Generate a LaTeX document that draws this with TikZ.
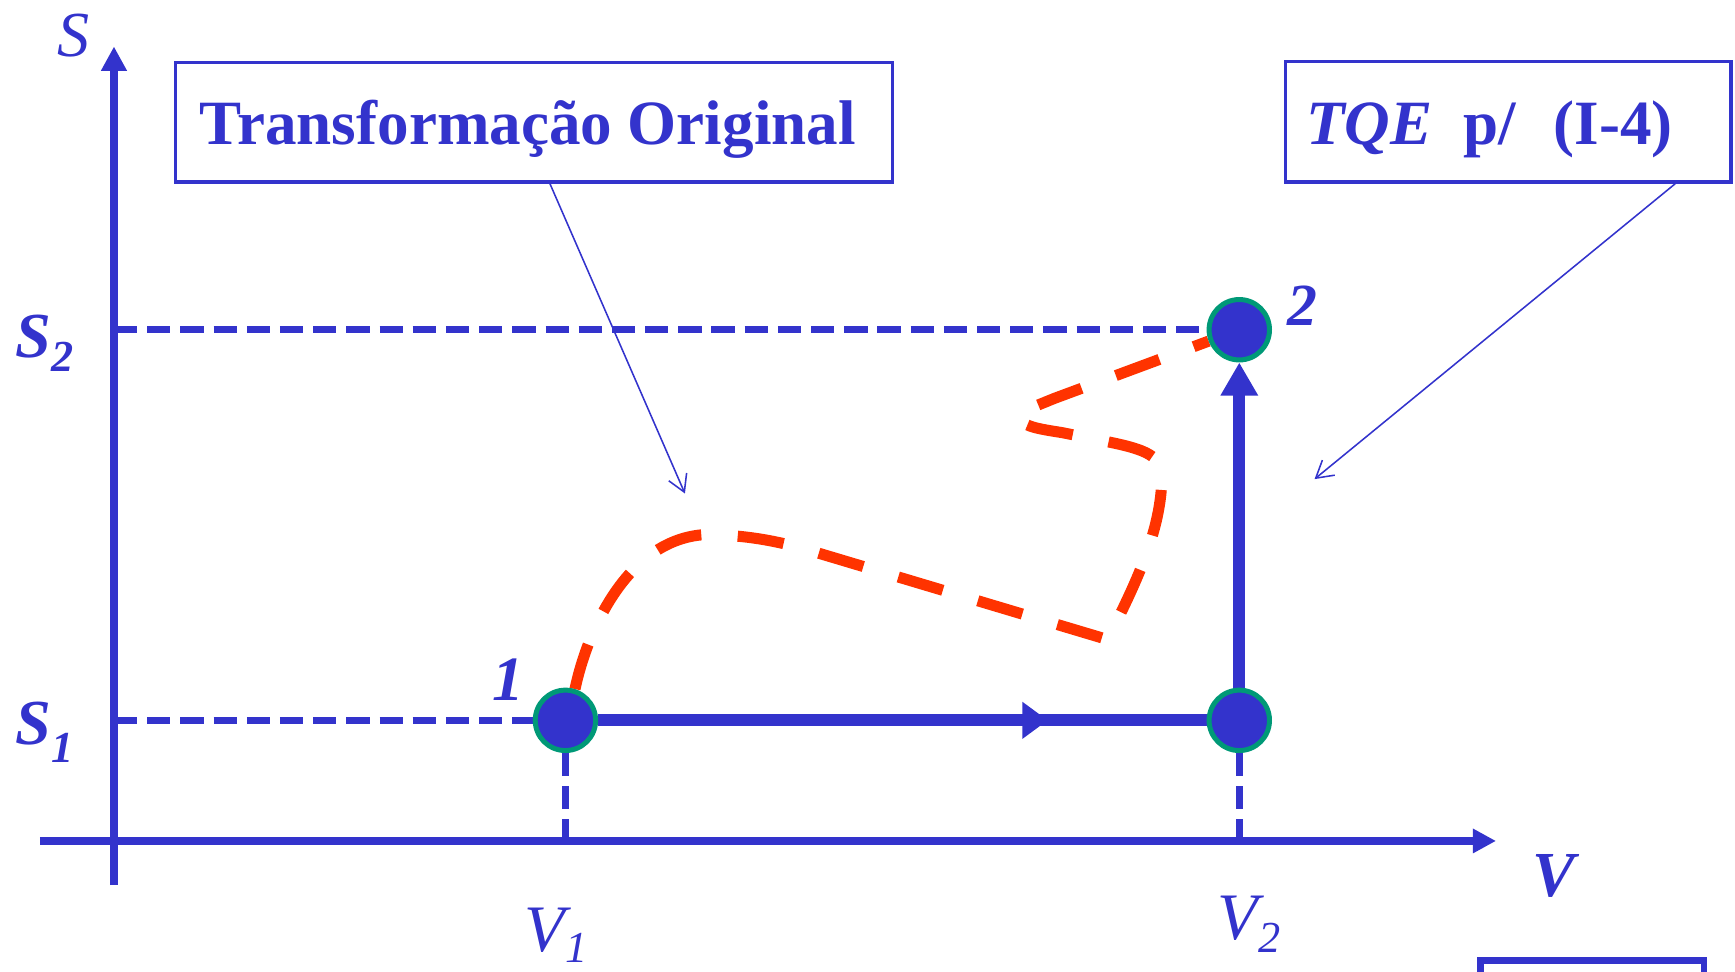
\documentclass[tikz,border=0pt]{standalone}
\usepackage{fontspec}
\setmainfont{Liberation Serif}
\usetikzlibrary{arrows.meta,decorations.markings}
\pgfdeclarelayer{bg}
\pgfsetlayers{bg,main}
\definecolor{dblue}{HTML}{3333CC}
\definecolor{dred}{HTML}{FF3300}
\definecolor{dgreen}{HTML}{009977}
\begin{document}
\begin{tikzpicture}[x=0.5pt,y=-0.5pt,
  axis/.style={draw=dblue,line width=3.4pt},
  guide/.style={draw=dblue,line width=3.2pt,dash pattern=on 10.5pt off 4.5pt},
  state/.style={circle,fill=dblue,draw=dgreen,line width=2.25pt,minimum size=27.3pt,inner sep=0pt},
  process/.style={draw=dblue,line width=5.5pt},
  orig/.style={draw=dred,line width=5pt,dash pattern=on 21pt off 16.5pt,line join=round},
  labelbox/.style={draw=dblue,line width=1.5pt,inner sep=0pt,text=dblue,font=\fontsize{28.5}{34}\selectfont\bfseries},
  leader/.style={draw=dblue,line width=0.7pt,-{Straight Barb[length=7.5pt,width=8.8pt]}},
  lbl/.style={text=dblue,inner sep=0pt,anchor=base west},
  bigit/.style={font=\fontsize{29}{34}\selectfont\itshape},
  bigbi/.style={font=\fontsize{29}{34}\selectfont\bfseries\itshape},
]
\useasboundingbox (0,0) rectangle (1568,878);

% state points
\node[state] (p1) at (511,651) {};
\node[state] (p3) at (1120,651) {};
\node[state] (p2) at (1120,298) {};

% axis coordinates
\coordinate (o1) at (103,800);
\coordinate (stip) at (103,42);
\coordinate (vstart) at (36,760);
\coordinate (vtip) at (1352,760);
\coordinate (s2) at (103,298);
\coordinate (s1) at (103,651);
\coordinate (v1) at (511,760);
\coordinate (v2) at (1120,760);

\begin{pgfonlayer}{bg}
  \draw[axis,-{Triangle[length=11pt,width=11pt]}] (o1) -- (stip);
  \draw[axis,-{Triangle[length=10.5pt,width=10.5pt]}] (vstart) -- (vtip);
  \draw[guide] (s2) -- (p2);
  \draw[guide] (s1) -- (p1);
  \draw[guide] (p1) -- (v1);
  \draw[guide] (p3) -- (v2);
  \draw[process,postaction={decorate},
        decoration={markings,mark=at position 0.739 with {\arrow{Triangle[length=11.5pt,width=16pt]}}}]
        (p1) -- (p3);
  \draw[process,-{Triangle[length=15pt,width=16pt]}] (p3) -- (p2);
  \draw[orig] (p1.73) .. controls (532,565) and (570,485) .. (640,483)
      .. controls (675,484) and (695,488) .. (720,494) -- (1001,578)
      .. controls (1025,530) and (1050,480) .. (1050,430)
      .. controls (1050,410) and (1030,405) .. (995,398) -- (960,391)
      .. controls (935,387) and (920,385) .. (921,373) -- (953,360) -- (p2);
\end{pgfonlayer}

% boxes
\node[labelbox,minimum width=324pt,minimum height=54pt,text height=20.5pt,text depth=0pt]
  (tbox) at (482.5,110.5) {Transformação Original\hspace*{5.5pt}};
\node[labelbox,minimum width=201.5pt,minimum height=54.5pt,text height=21pt,text depth=0pt]
  (qbox) at (1363,110) {\textit{TQE}\hspace*{14pt}p/\hspace*{17pt}(I-4)\hspace*{17pt}};

% leaders
\coordinate (t1) at (619,446);
\coordinate (t2) at (1188,433);
\draw[leader] ([xshift=7.25pt]tbox.south) -- (t1);
\draw[leader] ([xshift=75.5pt]qbox.south) -- (t2);

% labels
\node[lbl,bigit] (lS) at (52,51) {S};
\node[lbl,bigbi] (lS2) at (14,323) {S\raisebox{-6.5pt}{\fontsize{20}{24}\selectfont 2}};
\node[lbl,bigbi] (lS1) at (14,673) {S\raisebox{-8pt}{\fontsize{20}{24}\selectfont 1}};
\node[lbl,bigbi] (lV) at (1385,810) {V};
\node[lbl,font=\fontsize{30}{34}\selectfont\itshape] (lV1) at (474,860) {V\raisebox{-5pt}{\fontsize{20}{24}\selectfont 1}};
\node[lbl,font=\fontsize{30}{34}\selectfont\itshape] (lV2) at (1100,849) {V\raisebox{-6pt}{\fontsize{20}{24}\selectfont 2}};
\node[lbl,font=\fontsize{28.5}{34}\selectfont\bfseries\itshape] (l1) at (445,633) {1};
\node[lbl,font=\fontsize{27}{34}\selectfont\bfseries\itshape] (l2) at (1163,294) {2};

% partial box at bottom right
\draw[draw=dblue,line width=3pt] (1338,868) rectangle (1540,940);
\end{tikzpicture}
\end{document}
